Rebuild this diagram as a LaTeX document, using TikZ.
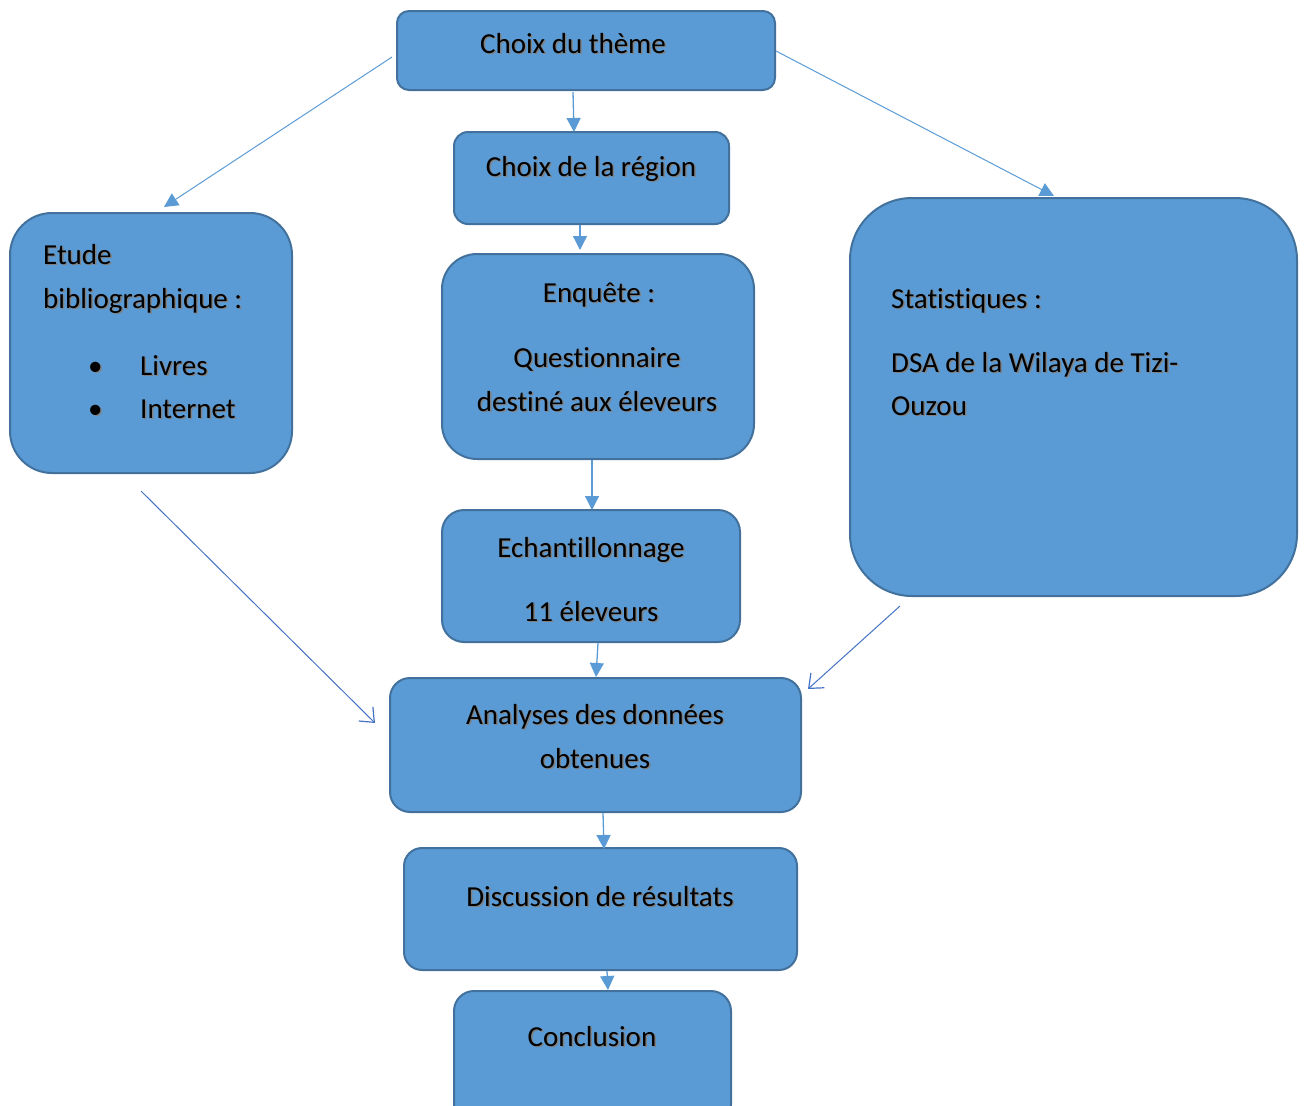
\documentclass[tikz,border=0pt]{standalone}
\usepackage{fontspec}
\setmainfont{Carlito}[Ligatures=NoCommon]
\usetikzlibrary{arrows.meta}
\definecolor{boxfill}{HTML}{5B9BD5}
\definecolor{boxline}{HTML}{41719C}
\definecolor{darkarrow}{HTML}{4472C4}
\newcommand\shd[1]{\rlap{\kern1.5pt\raisebox{-1.5pt}{\color{black!50}#1}}#1}
\begin{document}
\begin{tikzpicture}[x=1pt,y=-1pt,
  flowbox/.style={draw=boxline,fill=boxfill,line width=2pt,inner sep=0pt},
  txt/.style={anchor=base,inner sep=0pt,font=\fontsize{29}{35}\selectfont,text=black},
  txtl/.style={txt,anchor=base west},
  solidarrow/.style={draw=boxfill,line width=1.3pt,-{Triangle[width=14pt,length=14pt]}},
  thinarrow/.style={draw=boxfill,line width=1pt,-{Triangle[width=14pt,length=14pt]}},
  openarrow/.style={draw=darkarrow,line width=1pt,-{Straight Barb[length=12pt,width=20pt,line width=1.2pt]}}]
\useasboundingbox (0,0) rectangle (1307,1106);
\clip (0,0) rectangle (1307,1106);

% boxes
\node[flowbox,rounded corners=12pt,minimum width=378pt,minimum height=79pt] (theme) at (586,50.5) {};
\node[flowbox,rounded corners=14pt,minimum width=275pt,minimum height=92pt] (region) at (591.5,178) {};
\node[flowbox,rounded corners=42pt,minimum width=282pt,minimum height=260pt] (etude) at (151,343) {};
\node[flowbox,rounded corners=35pt,minimum width=312pt,minimum height=205pt] (enquete) at (598,356.5) {};
\node[flowbox,rounded corners=62pt,minimum width=447pt,minimum height=398pt] (stats) at (1073.5,397) {};
\node[flowbox,rounded corners=22pt,minimum width=298pt,minimum height=132pt] (echant) at (591,576) {};
\node[flowbox,rounded corners=20pt,minimum width=411pt,minimum height=134pt] (analyses) at (595.5,745) {};
\node[flowbox,rounded corners=18pt,minimum width=393pt,minimum height=122pt] (discussion) at (600.5,909) {};
\node[flowbox,rounded corners=20pt,minimum width=277pt,minimum height=134pt] (conclusion) at (592.5,1058) {};

% texts
\node[txt] (t1) at (573,53) {\shd{Choix du thème}};
\node[txt] (t2) at (591,176) {\shd{Choix de la région}};
\node[txtl] (t3a) at (43,264) {\shd{Etude}};
\node[txtl] (t3b) at (43,308) {\shd{bibliographique :}};
\node[txtl] (t3c) at (88,375) {\shd{•}};
\node[txtl] (t3d) at (140,375) {\shd{Livres}};
\node[txtl] (t3e) at (88,418) {\shd{•}};
\node[txtl] (t3f) at (140,418) {\shd{Internet}};
\node[txt] (t4a) at (599,302) {\shd{Enquête :}};
\node[txt] (t4b) at (597,367) {\shd{Questionnaire}};
\node[txt] (t4c) at (597,411) {\shd{destiné aux éleveurs}};
\node[txtl] (t5a) at (891,308) {\shd{Statistiques :}};
\node[txtl] (t5b) at (891,372) {\shd{DSA de la Wilaya de Tizi-}};
\node[txtl] (t5c) at (891,415) {\shd{Ouzou}};
\node[txt] (t6a) at (591,557) {\shd{Echantillonnage}};
\node[txt] (t6b) at (591,621) {\shd{11 éleveurs}};
\node[txt] (t7a) at (595,724) {\shd{Analyses des données}};
\node[txt] (t7b) at (595,768) {\shd{obtenues}};
\node[txt] (t8) at (600,906) {\shd{Discussion de résultats}};
\node[txt] (t9) at (592,1046) {\shd{Conclusion}};

% connector end points
\coordinate (c1s) at (573,92);   \coordinate (c1e) at (574,132);
\coordinate (c2s) at (580,225);  \coordinate (c2e) at (580,250);
\coordinate (c3s) at (592,460);  \coordinate (c3e) at (592,510);
\coordinate (c4s) at (598,643);  \coordinate (c4e) at (596,677);
\coordinate (c5s) at (603,813);  \coordinate (c5e) at (604,849);
\coordinate (c6s) at (607,971);  \coordinate (c6e) at (608,990);
\coordinate (c7s) at (392,57);   \coordinate (c7e) at (164,207);
\coordinate (c8s) at (776,51);   \coordinate (c8e) at (1054,196);
\coordinate (c9s) at (141,491);  \coordinate (c9e) at (375,723);
\coordinate (c10s) at (900,606); \coordinate (c10e) at (808,689);

% connectors
\draw[solidarrow] (c1s) -- (c1e);
\draw[solidarrow] (c2s) -- (c2e);
\draw[solidarrow] (c3s) -- (c3e);
\draw[solidarrow] (c4s) -- (c4e);
\draw[solidarrow] (c5s) -- (c5e);
\draw[solidarrow] (c6s) -- (c6e);
\draw[thinarrow] (c7s) -- (c7e);
\draw[thinarrow] (c8s) -- (c8e);
\draw[openarrow] (c9s) -- (c9e);
\draw[openarrow] (c10s) -- (c10e);
\end{tikzpicture}
\end{document}
